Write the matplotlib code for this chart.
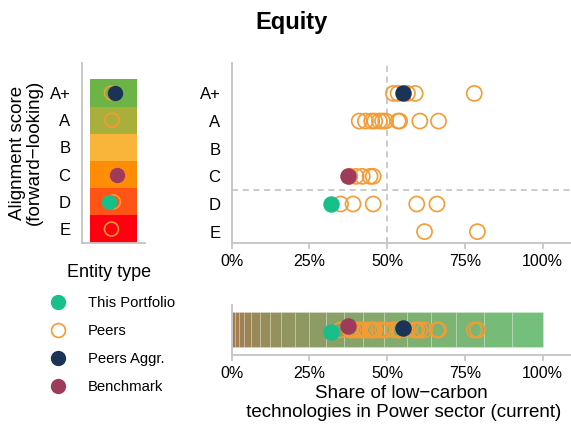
import numpy as np
import matplotlib
matplotlib.use("Agg")
import matplotlib.pyplot as plt
from matplotlib.lines import Line2D
from matplotlib.colors import to_rgb

plt.rcParams['font.family'] = ['Liberation Sans', 'DejaVu Sans']

# data
score_labels = ["A+", "A", "B", "C", "D", "E"]
score_colors = ["#6CB446", "#A8AF3A", "#F9B43A", "#FF8C05", "#FF5416", "#FF0010"]

peer_scores = (["A+"] * 5 + ["A"] * 11 + ["C"] * 5 + ["D"] * 5 + ["E"] * 2)
peer_shares = [52, 53.5, 56.5, 59, 78,
               41, 43, 45, 46, 47.5, 48.5, 49.5, 53.5, 54, 60.5, 66.5,
               38, 40, 42, 44.5, 45.5,
               35, 39, 45.5, 59.5, 66,
               62, 79]

portfolio_score, portfolio_share = "D", 32
aggr_score, aggr_share = "A+", 55
bench_score, bench_share = "C", 37.5

# peers shown in the score column (one per occupied score)
left_peer_scores = ["A+", "A", "C", "D", "E"]

xticks = [0, 25, 50, 75, 100]
xticklabels = ["0%", "25%", "50%", "75%", "100%"]

c_port = "#17C08A"
c_peer = "#F59B35"
c_aggr = "#1B3355"
c_bench = "#9E3B5B"
c_axis = "#C4C4C4"

ypos = {s: len(score_labels) - i for i, s in enumerate(score_labels)}

fig = plt.figure(figsize=(5.71, 4.24), dpi=100)

W, H = 571, 424
def box(x0, y0, x1, y1):
    return [x0 / W, 1 - y1 / H, (x1 - x0) / W, (y1 - y0) / H]

ax_l = fig.add_axes(box(81.7, 63, 145, 242.7))
ax_t = fig.add_axes(box(231.7, 63, 571, 242.7))
ax_b = fig.add_axes(box(231.7, 305, 571, 355))

def style(ax):
    for s in ["top", "right"]:
        ax.spines[s].set_visible(False)
    for s in ["left", "bottom"]:
        ax.spines[s].set_color(c_axis)
        ax.spines[s].set_linewidth(1.3)
    ax.tick_params(colors=c_axis, labelcolor="black", labelsize=11.5)

ms = 118

# left: score column
style(ax_l)
ax_l.set_xlim(0, 1)
ax_l.set_ylim(0.5, 7.1)
for s, c in zip(score_labels, score_colors):
    ax_l.add_patch(plt.Rectangle((0.13, ypos[s] - 0.5), 0.75, 1, color=c, lw=0, zorder=1))
left_jit = [0.47, 0.48, 0.48, 0.5, 0.47]
for s, jx in zip(left_peer_scores, left_jit):
    a = 0.35 if s == bench_score else 1
    ax_l.scatter(jx, ypos[s], s=ms * 0.85, facecolor="none", edgecolor=c_peer, lw=1.2, alpha=a, zorder=3)
ax_l.scatter(0.53, ypos[aggr_score], s=ms * 0.85, color=c_aggr, zorder=4)
ax_l.scatter(0.56, ypos[bench_score], s=ms * 0.85, color=c_bench, zorder=4)
ax_l.scatter(0.43, ypos[portfolio_score], s=ms * 0.85, color=c_port, zorder=4)
ax_l.set_xticks([])
ax_l.set_yticks([ypos[s] for s in score_labels])
ax_l.set_yticklabels(score_labels, fontsize=12)
ax_l.tick_params(axis="y", length=0, pad=8)
ax_l.set_ylabel("Alignment score\n(forward\u2212looking)", fontsize=13.5, labelpad=5,
                linespacing=1.0)

# top right: score vs share
style(ax_t)
ax_t.set_xlim(0, 109.1)
ax_t.set_ylim(0.6, 7.1)
ax_t.axvline(50, color="#BDBDBD", ls=(0, (4, 3)), lw=1.1, zorder=0)
ax_t.axhline(2.5, color="#BDBDBD", ls=(0, (4, 3)), lw=1.1, zorder=0)
ax_t.scatter(peer_shares, [ypos[s] for s in peer_scores], s=ms, facecolor="none",
             edgecolor=c_peer, lw=1.2, zorder=3)
ax_t.scatter(aggr_share, ypos[aggr_score], s=ms, color=c_aggr, zorder=4)
ax_t.scatter(bench_share, ypos[bench_score], s=ms, color=c_bench, zorder=4)
ax_t.scatter(portfolio_share, ypos[portfolio_score], s=ms, color=c_port, zorder=4)
ax_t.set_yticks([ypos[s] for s in score_labels])
ax_t.set_yticklabels(score_labels, fontsize=12)
ax_t.tick_params(axis="y", length=0, pad=8)
ax_t.set_xticks(xticks)
ax_t.set_xticklabels(xticklabels)
ax_t.tick_params(axis="x", length=4, width=1.2, pad=4)

# bottom: share with gradient bar
style(ax_b)
ax_b.set_xlim(0, 109.1)
ax_b.set_ylim(0, 1)
n_seg = 20
lo, hi = np.array(to_rgb("#A8744A")), np.array(to_rgb("#72C17C"))
edges = 100 * (np.arange(n_seg + 1) / n_seg) ** 2
for i in range(n_seg):
    col = lo + (hi - lo) * (i + 0.5) / n_seg
    ax_b.add_patch(plt.Rectangle((edges[i], 0.166), edges[i + 1] - edges[i], 0.7,
                                 facecolor=col, edgecolor=(1, 1, 1, 0.22), lw=0.6, zorder=1))
ax_b.scatter(peer_shares, [0.5] * len(peer_shares), s=ms, facecolor="none",
             edgecolor=c_peer, lw=1.2, zorder=3)
ax_b.scatter(aggr_share, 0.54, s=ms, color=c_aggr, zorder=4)
ax_b.scatter(bench_share, 0.58, s=ms, color=c_bench, zorder=4)
ax_b.scatter(portfolio_share, 0.465, s=ms, color=c_port, zorder=5)
ax_b.set_yticks([])
ax_b.set_xticks(xticks)
ax_b.set_xticklabels(xticklabels)
ax_b.tick_params(axis="x", length=4, width=1.2, pad=4)
ax_b.set_xlabel("Share of low\u2212carbon\n technologies in Power sector (current)",
                fontsize=13.5, labelpad=3, linespacing=1.15)

fig.text(0.51, 0.948, "Equity", ha="center", va="center", fontsize=17, fontweight="bold")

handles = [
    Line2D([], [], ls="", marker="o", ms=10, color=c_port),
    Line2D([], [], ls="", marker="o", ms=10, mfc="none", mec=c_peer, mew=1.2),
    Line2D([], [], ls="", marker="o", ms=10, color=c_aggr),
    Line2D([], [], ls="", marker="o", ms=10, color=c_bench),
]
labels = ["This Portfolio", "Peers", "Peers Aggr.", "Benchmark"]
leg = fig.legend(handles, labels, title="Entity type", loc="upper left",
                 bbox_to_anchor=(0.066, 0.392), frameon=False, fontsize=10.7,
                 title_fontsize=13, labelspacing=0.95, handletextpad=1.0,
                 borderaxespad=0)
leg._legend_box.sep = 11

fig.savefig("out.png", dpi=100)
